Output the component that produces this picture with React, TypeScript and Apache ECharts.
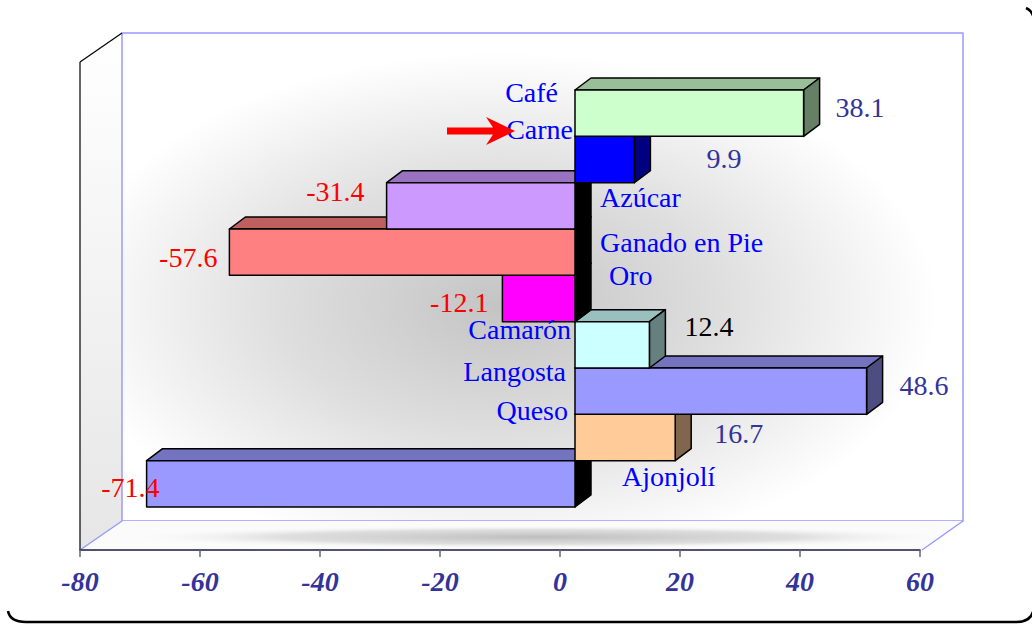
import React, { useEffect, useRef } from "react";
import * as echarts from "echarts";

// ---------- data ----------
const categories = ["Café", "Carne", "Azúcar", "Ganado en Pie", "Oro", "Camarón", "Langosta", "Queso", "Ajonjolí"];
const values = [38.1, 9.9, -31.4, -57.6, -12.1, 12.4, 48.6, 16.7, -71.4];
const axisMin = -80;
const axisMax = 60;
const axisStep = 20;

// ---------- styles ----------
const frontColors = ["#CCFFCC", "#0000FF", "#CC99FF", "#FF8080", "#FF00FF", "#CCFFFF", "#9999FF", "#FFCC99", "#9999FF"];
const topColors = ["#99BF99", "#0000BF", "#9973BF", "#BF6060", "#BF00BF", "#99BFBF", "#7373BF", "#BF9973", "#7373BF"];
const sideColors = ["#668066", "#000080", "#000000", "#000000", "#000000", "#668080", "#4D4D80", "#7F664D", "#000000"];
const valueLabelColors = ["#333399", "#333399", "#FF0000", "#FF0000", "#FF0000", "#000000", "#333399", "#333399", "#FF0000"];

// label placement offsets (pixels, layout only)
const valueLabelDx = [32, 72, -22, -12, -14, 35, 33, 39, 13];
const valueLabelDy = [-6, -1, -14, 5, 4, -18, -6, -4, 4];
const catLabelDx = [-17, -2, 25, 25, 34, -4, -9, -7, 47];
const catLabelDy = [-21, -30, -8, -10, -23, -15, -20, -27, -7];

const FONT = "'Liberation Serif', 'Times New Roman', serif";
const DEPTH_X = 16;
const DEPTH_Y = -12;

echarts.graphic.registerShape(
  "frameBorder",
  echarts.graphic.extendPath(
    "M 8 611 Q 10 622 26 622 L 1016 622 Q 1034 622 1034 605 L 1034 20 Q 1033 11 1026 8",
    {}
  )
);

export default function App() {
  const ref = useRef<HTMLDivElement>(null);

  useEffect(() => {
    document.body.style.margin = "0";
    if (!ref.current) return;
    const chart = echarts.init(ref.current, undefined, { renderer: "svg" });

    const renderItem = (params: any, api: any) => {
      const v = api.value(0) as number;
      const i = api.value(1) as number;
      const c = api.coord([0, i]);
      const e = api.coord([v, i]);
      const h = api.size([0, 1])[1];
      const y0 = c[1] - h / 2;
      const y1 = c[1] + h / 2;
      const xl = Math.min(c[0], e[0]);
      const xr = Math.max(c[0], e[0]);
      const base = 10 * (9 - i);
      const edge = { stroke: "#000", lineWidth: 1.5, lineJoin: "round" };
      return {
        type: "group",
        children: [
          {
            type: "polygon",
            z2: base,
            shape: { points: [[xl, y0], [xr, y0], [xr + DEPTH_X, y0 + DEPTH_Y], [xl + DEPTH_X, y0 + DEPTH_Y]] },
            style: { fill: topColors[i], ...edge },
          },
          {
            type: "polygon",
            z2: base + 1,
            shape: { points: [[xr, y0], [xr + DEPTH_X, y0 + DEPTH_Y], [xr + DEPTH_X, y1 + DEPTH_Y], [xr, y1]] },
            style: { fill: v >= 0 ? sideColors[i] : "#000000", ...edge },
          },
          {
            type: "rect",
            z2: base + 2,
            shape: { x: xl, y: y0, width: xr - xl, height: h },
            style: { fill: frontColors[i], ...edge },
          },
          {
            type: "text",
            z2: 1000,
            style: {
              text: String(v),
              x: (v >= 0 ? xr : xl) + valueLabelDx[i],
              y: c[1] + valueLabelDy[i],
              align: v >= 0 ? "left" : "right",
              verticalAlign: "middle",
              fill: valueLabelColors[i],
              fontSize: 28,
              fontFamily: FONT,
            },
          },
          {
            type: "text",
            z2: 1000,
            style: {
              text: categories[i],
              x: c[0] + catLabelDx[i],
              y: c[1] + catLabelDy[i],
              align: v >= 0 ? "right" : "left",
              verticalAlign: "middle",
              fill: "#0000FF",
              fontSize: 28,
              fontFamily: FONT,
            },
          },
        ],
      };
    };

    const option: any = {
      animation: false,
      backgroundColor: "#ffffff",
      grid: [
        { left: 80, right: 112, top: 90, bottom: 74 },
        { left: 95, right: 97, top: 90, bottom: 117 },
      ],
      xAxis: [
        {
          type: "value",
          gridIndex: 0,
          min: axisMin,
          max: axisMax,
          interval: axisStep,
          z: 5,
          axisLine: { show: true, onZero: false, lineStyle: { color: "#1a1a44", width: 1.5 } },
          axisTick: { show: true, length: 7, lineStyle: { color: "#666666", width: 1.5 } },
          splitLine: { show: false },
          axisLabel: {
            margin: 17,
            color: "#333399",
            fontSize: 28,
            fontWeight: "bold",
            fontStyle: "italic",
            fontFamily: FONT,
          },
        },
        { type: "value", gridIndex: 1, min: axisMin, max: axisMax, show: false },
      ],
      yAxis: [
        { type: "value", gridIndex: 0, show: false },
        { type: "category", gridIndex: 1, data: categories, inverse: true, show: false },
      ],
      graphic: [
        // left wall
        {
          type: "polygon",
          z: 0,
          shape: { points: [[80, 62], [122, 33], [122, 521], [80, 550]] },
          style: {
            fill: new echarts.graphic.LinearGradient(0, 0, 0, 1, [
              { offset: 0, color: "#ffffff" },
              { offset: 1, color: "#e6e6e6" },
            ]),
          },
        },
        // back wall
        {
          type: "rect",
          z: 0,
          shape: { x: 122, y: 33, width: 841, height: 488 },
          style: {
            fill: new echarts.graphic.RadialGradient(0.45, 0.56, 0.52, [
              { offset: 0, color: "#c4c4c4" },
              { offset: 0.5, color: "#dedede" },
              { offset: 1, color: "#ffffff" },
            ]),
            stroke: "#9999FF",
            lineWidth: 1.5,
          },
        },
        // floor
        {
          type: "polygon",
          z: 0,
          shape: { points: [[80, 550], [122, 521], [963, 521], [922, 550]] },
          style: { fill: "#fbfbfb" },
        },
        {
          type: "ellipse",
          z: 0,
          shape: { cx: 540, cy: 537, rx: 430, ry: 12 },
          style: {
            fill: new echarts.graphic.RadialGradient(0.5, 0.5, 0.5, [
              { offset: 0, color: "rgba(190,190,190,1)" },
              { offset: 0.6, color: "rgba(215,215,215,0.8)" },
              { offset: 1, color: "rgba(255,255,255,0)" },
            ]),
          },
        },
        // wall edges
        { type: "line", z: 1, shape: { x1: 80, y1: 62, x2: 80, y2: 550 }, style: { stroke: "#000", lineWidth: 1.2 } },
        { type: "line", z: 1, shape: { x1: 80, y1: 62, x2: 122, y2: 33 }, style: { stroke: "#000", lineWidth: 1.2 } },
        { type: "line", z: 1, shape: { x1: 80, y1: 550, x2: 122, y2: 521 }, style: { stroke: "#9999FF", lineWidth: 1.5 } },
        { type: "line", z: 1, shape: { x1: 922, y1: 550, x2: 963, y2: 521 }, style: { stroke: "#9999FF", lineWidth: 1.5 } },
        // arrow
        {
          type: "polygon",
          z: 20,
          shape: { points: [[447, 127.5], [493, 127.5], [486, 117], [515, 131], [486, 145], [493, 134.5], [447, 134.5]] },
          style: { fill: "#FF0000" },
        },
        // outer border
        {
          type: "frameBorder",
          z: 20,
          x: 0,
          y: 0,
          scaleX: 1,
          scaleY: 1,
          style: { fill: "none", stroke: "#000", lineWidth: 2.5 },
        },
      ],
      series: [
        {
          type: "custom",
          xAxisIndex: 1,
          yAxisIndex: 1,
          z: 3,
          clip: false,
          silent: true,
          renderItem,
          encode: { x: 0, y: 1 },
          data: values.map((v, i) => [v, i]),
        },
      ],
    };

    chart.setOption(option);
    return () => chart.dispose();
  }, []);

  return <div ref={ref} style={{ width: 1032, height: 624 }} />;
}
